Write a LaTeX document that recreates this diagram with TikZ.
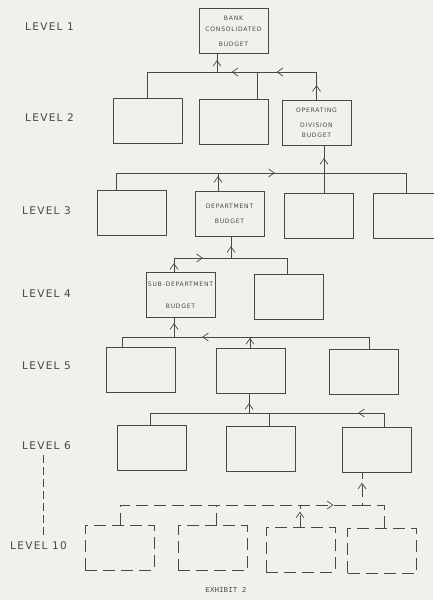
\documentclass[tikz,border=0pt]{standalone}
\usepackage{fontspec}
\usetikzlibrary{arrows.meta,decorations.markings}

\newfontfamily\leroy{DejaVu Sans}[LetterSpace=12]
\newfontfamily\typer{Liberation Mono}

\definecolor{paper}{RGB}{240,240,237}
\definecolor{ink}{RGB}{72,72,72}

\tikzset{
	chev/.tip={Straight Barb[length=1.7mm,width=2.4mm]},
	box/.style={draw=ink, line width=0.6pt, minimum width=20.7mm, minimum height=13.5mm,
		inner sep=0pt, align=center, text=ink, font=\leroy\fontsize{5.2}{6}\selectfont},
	dbox/.style={box, dash pattern=on 3.6mm off 1.8mm},
	lvl/.style={anchor=west, inner sep=0pt, text=ink, font=\leroy\fontsize{9}{10}\selectfont},
	link/.style={draw=ink, line width=0.6pt},
	dlink/.style={link, dash pattern=on 3.6mm off 1.8mm},
	arr/.style={postaction={decorate, decoration={markings,
		mark=at position #1 with {\arrow{chev}}}}}
}

\begin{document}
\begin{tikzpicture}[x=0.3mm, y=-0.3mm]

	\useasboundingbox (0,0) rectangle (433,600);
	\fill[paper] (0,0) rectangle (433,600);

	% Level labels
	\node[lvl] (lv1) at (25,27) {LEVEL 1};
	\node[lvl] (lv2) at (25,118) {LEVEL 2};
	\node[lvl] (lv3) at (22,211) {LEVEL 3};
	\node[lvl] (lv4) at (22,294) {LEVEL 4};
	\node[lvl] (lv5) at (22,366) {LEVEL 5};
	\node[lvl] (lv6) at (22,446) {LEVEL 6};
	\node[lvl] (lv10) at (10,546) {LEVEL 10};

	% Budget boxes
	\node[box] (bank) at (233.5,31) {BANK\\[1.2mm]CONSOLIDATED\\[2.4mm]BUDGET};

	\node[box] (b21) at (147.5,120.5) {};
	\node[box] (b22) at (233.5,121.5) {};
	\node[box] (b23) at (316.5,123) {OPERATING\\[2.4mm]DIVISION\\[0.9mm]BUDGET};

	\node[box] (b31) at (132,213) {};
	\node[box] (b32) at (229.5,214) {DEPARTMENT\\[2.4mm]BUDGET};
	\node[box] (b33) at (319,215.5) {};
	\node[box] (b34) at (408,215.5) {};

	\node[box] (b41) at (180.5,295) {SUB-DEPARTMENT\\[4.5mm]BUDGET};
	\node[box] (b42) at (288.5,296.5) {};

	\node[box] (b51) at (140.5,369.5) {};
	\node[box] (b52) at (251,370.5) {};
	\node[box] (b53) at (364,372) {};

	\node[box] (b61) at (151.5,448) {};
	\node[box] (b62) at (260.5,449) {};
	\node[box] (b63) at (376.5,450) {};

	\node[dbox] (b101) at (119.5,547.5) {};
	\node[dbox] (b102) at (212.5,548) {};
	\node[dbox] (b103) at (300.5,549.5) {};
	\node[dbox] (b104) at (382,550.5) {};

	% Bus junctions
	\coordinate (j1a) at (217,72);
	\coordinate (j1b) at (257,72);
	\coordinate (j3a) at (116,173);
	\coordinate (j3b) at (218,173);
	\coordinate (j3c) at (324,173);
	\coordinate (j3d) at (406,173);
	\coordinate (j4a) at (174,258);
	\coordinate (j4b) at (231,258);
	\coordinate (j4c) at (287,258);
	\coordinate (j5a) at (174,337);
	\coordinate (j5b) at (250,337);
	\coordinate (j5c) at (369,337);
	\coordinate (j5d) at (122,337);
	\coordinate (j6a) at (150,413);
	\coordinate (j6b) at (249,413);
	\coordinate (j6c) at (384,413);
	\coordinate (j6d) at (269,413);
	\coordinate (j10a) at (120,505);
	\coordinate (j10b) at (216,505);
	\coordinate (j10c) at (362,505);
	\coordinate (j10d) at (300,505);
	\coordinate (j10e) at (384,505);
	\coordinate (v6) at (43,0);

	% Level 2 -> 1
	\draw[link, arr=3.6mm] (j1a) -- (j1a |- bank.south);
	\draw[link, arr=4.5mm, arr=20.4mm, arr=33.9mm]
		(b23.north) -- (b23.north |- j1a) -- (b21.north |- j1a) -- (b21.north);
	\draw[link] (b22.north -| j1b) -- (j1b);

	% Level 3 -> 2
	\draw[link, arr=52.8mm, arr=72mm]
		(b31.north -| j3a) -- (j3a) -- (j3c) -- (j3c |- b23.south);
	\draw[link] (b34.north -| j3d) -- (j3d) -- (j3c);
	\draw[link] (b33.north -| j3c) -- (j3c);
	\draw[link, arr=4.5mm] (b32.north -| j3b) -- (j3b);

	% Level 4 -> 3
	\draw[link, arr=2.7mm, arr=12.9mm, arr=24.9mm]
		(b41.north -| j4a) -- (j4a) -- (j4b) -- (j4b |- b32.south);
	\draw[link] (b42.north -| j4c) -- (j4c) -- (j4b);

	% Level 5 -> 4
	\draw[link, arr=53.7mm, arr=66.3mm]
		(b53.north -| j5c) -- (j5c) -- (j5a) -- (j5a |- b41.south);
	\draw[link] (b51.north -| j5d) -- (j5d) -- (j5a);
	\draw[link, arr=2.9mm] (b52.north -| j5b) -- (j5b);

	% Level 6 -> 5
	\draw[link, arr=12mm, arr=47.7mm]
		(b63.north -| j6c) -- (j6c) -- (j6b) -- (j6b |- b52.south);
	\draw[link] (b61.north -| j6a) -- (j6a) -- (j6b);
	\draw[link] (b62.north -| j6d) -- (j6d);

	% Level 10 -> 6
	\draw[dlink, arr=69.9mm, arr=85.2mm]
		(b101.north -| j10a) -- (j10a) -- (j10c) -- (j10c |- b63.south);
	\draw[dlink] (b104.north -| j10e) -- (j10e) -- (j10c);
	\draw[dlink] (b102.north -| j10b) -- (j10b);
	\draw[dlink, arr=4.5mm] (b103.north -| j10d) -- (j10d);

	\draw[dlink, dash pattern=on 2.4mm off 1.2mm]
		([yshift=-1.5mm]lv6.south -| v6) -- ([yshift=1.5mm]lv10.north -| v6);

	\node[text=ink, font=\typer\fontsize{6.5}{8}\selectfont] (exh) at (226,590) {EXHIBIT 2};

\end{tikzpicture}
\end{document}
